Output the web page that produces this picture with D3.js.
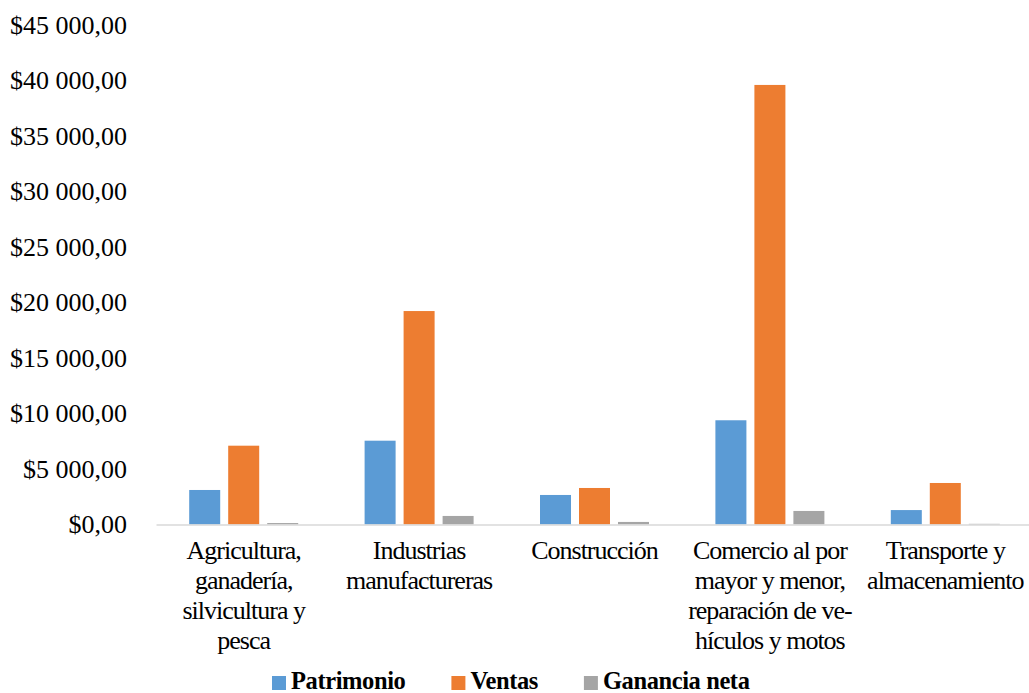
<!DOCTYPE html>
<html>
<head>
<meta charset="utf-8">
<script src="https://cdn.jsdelivr.net/npm/d3@7"></script>
<style>
  html, body { margin: 0; padding: 0; background: #fff; }
  svg { display: block; }
  text { font-family: "Liberation Serif", "Times New Roman", serif; fill: #000; }
</style>
</head>
<body>
<svg id="chart" width="1029" height="693"></svg>
<script>
const categories = [
  "Agricultura, ganadería, silvicultura y pesca",
  "Industrias manufactureras",
  "Construcción",
  "Comercio al por mayor y menor, reparación de vehículos y motos",
  "Transporte y almacenamiento"
];
const categoryLines = [
  ["Agricultura,", "ganadería,", "silvicultura y", "pesca"],
  ["Industrias", "manufactureras"],
  ["Construcción"],
  ["Comercio al por", "mayor y menor,", "reparación de ve-", "hículos y motos"],
  ["Transporte y", "almacenamiento"]
];
const seriesNames = ["Patrimonio", "Ventas", "Ganancia neta"];
const patrimonio = [3110, 7550, 2660, 9390, 1300];
const ventas = [7100, 19230, 3290, 39600, 3740];
const ganancia = [130, 770, 230, 1220, 60];
const seriesValues = [patrimonio, ventas, ganancia];
const yTicks = [0, 5000, 10000, 15000, 20000, 25000, 30000, 35000, 40000, 45000];
const colors = ["#5B9BD5", "#ED7D31", "#A5A5A5"];

const svg = d3.select("#chart");
const x0 = 156, x1 = 1033, yTop = 25, yBase = 524.5;

const x = d3.scaleBand().domain(categories).range([x0, x1]).paddingInner(0).paddingOuter(0);
const groupW = 109;
const xs = d3.scaleBand().domain(seriesNames).range([0, groupW]).paddingInner(0.205).paddingOuter(0);
const y = d3.scaleLinear().domain([0, 45000]).range([yBase, yTop]);

function fmt(v) {
  const s = d3.format(",")(v).replace(/,/g, " ");
  return "$" + s + ",00";
}

// Y axis labels (no line)
const yAxis = d3.axisLeft(y).tickValues(yTicks).tickSize(0).tickPadding(0).tickFormat(fmt);
const gy = svg.append("g").attr("transform", "translate(127,0)").call(yAxis);
gy.select(".domain").remove();
gy.selectAll("text")
  .style("font-family", '"Liberation Serif", "Times New Roman", serif')
  .style("font-size", "26px")
  .attr("fill", "#000")
  .attr("dy", "0.32em");

// Bars
const data = [];
categories.forEach((c, i) => seriesNames.forEach((s, j) => data.push({ c, s, j, v: seriesValues[j][i] })));
svg.append("g").selectAll("rect").data(data).join("rect")
  .attr("x", d => x(d.c) + (x.bandwidth() - groupW) / 2 + xs(d.s))
  .attr("width", xs.bandwidth())
  .attr("y", d => y(d.v))
  .attr("height", d => yBase - y(d.v))
  .attr("fill", d => colors[d.j]);

// X axis line
const xAxis = d3.axisBottom(x).tickSize(0).tickFormat("");
const gx = svg.append("g").attr("transform", `translate(0,${yBase})`).call(xAxis);
gx.select(".domain").attr("stroke", "#D9D9D9").attr("stroke-width", 1.5);

// Category labels
const lab = svg.append("g");
categories.forEach((c, i) => {
  const t = lab.append("text")
    .attr("text-anchor", "middle")
    .style("font-size", "26px")
    .style("letter-spacing", "-1px")
    .attr("x", x(c) + x.bandwidth() / 2)
    .attr("y", 558.5);
  categoryLines[i].forEach((ln, k) => {
    t.append("tspan").attr("x", x(c) + x.bandwidth() / 2).attr("dy", k === 0 ? 0 : 30).text(ln);
  });
});

// Legend
const leg = svg.append("g");
let lx = 272;
seriesNames.forEach((s, j) => {
  leg.append("rect").attr("x", lx).attr("y", 676).attr("width", 14).attr("height", 14).attr("fill", colors[j]);
  const t = leg.append("text").attr("x", lx + 19).attr("y", 688.5)
    .style("font-size", "24.5px").style("font-weight", "bold").style("letter-spacing", "-0.4px")
    .text(s);
  lx = lx + 19 + t.node().getComputedTextLength() + 46;
});
</script>
</body>
</html>
